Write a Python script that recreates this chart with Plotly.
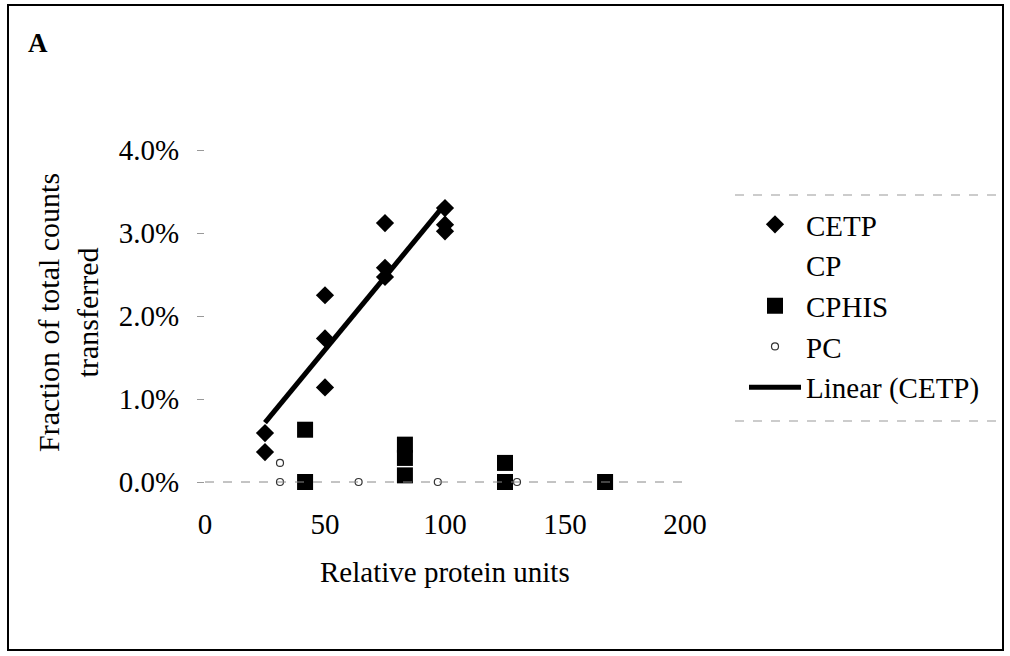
import numpy as np
import plotly.graph_objects as go

# CETP transfer vs relative protein units
cetp_x = [25, 25, 50, 50, 50, 75, 75, 75, 100, 100, 100]
cetp_y = [0.0036, 0.0059, 0.0114, 0.0173, 0.0225, 0.0247, 0.0258, 0.0312, 0.0302, 0.0310, 0.0330]

# CP shows no visible points
cp_x = [None]
cp_y = [None]

cphis_x = [41.7, 41.7, 83.3, 83.3, 83.3, 125, 125, 166.7]
cphis_y = [0.0, 0.0063, 0.0008, 0.0029, 0.0045, 0.0, 0.0023, 0.0]

pc_x = [31.25, 31.25, 64, 97, 130]
pc_y = [0.0, 0.0023, 0.0, 0.0, 0.0]

x_ticks = [0, 50, 100, 150, 200]
y_ticks = [0.0, 0.01, 0.02, 0.03, 0.04]

# plot area in page pixels (body margin removed below)
W, H = 1010, 656
L, R, T, B = 205, 685, 150, 482


def px(x):
    return (x - L) / (R - L)


def py(y):
    return (B - y) / (B - T)


serif = "Liberation Serif, Times New Roman, serif"

fig = go.Figure()

fig.add_trace(go.Scatter(
    x=cetp_x, y=cetp_y, name="CETP", mode="markers",
    marker=dict(symbol="diamond", size=14, color="black"),
    cliponaxis=False
))

fig.add_trace(go.Scatter(
    x=cp_x, y=cp_y, name="CP", mode="markers",
    marker=dict(symbol="square", size=12, color="white", opacity=0)
))

fig.add_trace(go.Scatter(
    x=cphis_x, y=cphis_y, name="CPHIS", mode="markers",
    marker=dict(symbol="square", size=16, color="black"),
    cliponaxis=False
))

fig.add_trace(go.Scatter(
    x=pc_x, y=pc_y, name="PC", mode="markers",
    marker=dict(symbol="circle-open", size=7, color="#333333", line=dict(width=1.2)),
    cliponaxis=False
))

# Linear trendline for CETP
slope, intercept = np.polyfit(cetp_x, cetp_y, 1)
fit_x = np.array([min(cetp_x), max(cetp_x)])
fig.add_trace(go.Scatter(
    x=fit_x, y=slope * fit_x + intercept, name="Linear (CETP)", mode="lines",
    line=dict(color="black", width=5)
))

fig.update_layout(
    width=W, height=H,
    margin=dict(l=L, r=W - R, t=T, b=H - B),
    paper_bgcolor="white", plot_bgcolor="white",
    font=dict(family=serif, size=29, color="black"),
    showlegend=True,
    legend=dict(
        x=px(744), y=py(199), xanchor="left", yanchor="top",
        font=dict(family=serif, size=29),
        bgcolor="rgba(0,0,0,0)", borderwidth=0,
        itemwidth=52
    ),
)

fig.update_xaxes(
    range=[0, 200], tickvals=x_ticks, ticks="", showline=False,
    showgrid=False, zeroline=False, ticklabelstandoff=22,
    tickfont=dict(family=serif, size=29)
)
fig.update_yaxes(
    range=[0, 0.04], tickvals=y_ticks, tickformat=".1%", ticks="outside",
    ticklen=7, tickcolor="#999999", showline=False, showgrid=False,
    zeroline=False, ticklabelstandoff=12,
    tickfont=dict(family=serif, size=29)
)

# Axis titles
fig.add_annotation(
    x=px(445), y=py(572), xref="paper", yref="paper", showarrow=False,
    xanchor="center", yanchor="middle",
    text="Relative protein units", font=dict(family=serif, size=29)
)
fig.add_annotation(
    x=px(68), y=py(313), xref="paper", yref="paper", showarrow=False,
    xanchor="center", yanchor="middle",
    text="Fraction of total counts<br>transferred", textangle=-90,
    font=dict(family=serif, size=30)
)

# Panel label
fig.add_annotation(
    x=px(26), y=py(43), xref="paper", yref="paper", showarrow=False,
    xanchor="left", yanchor="middle", text="<b>A</b>",
    font=dict(family=serif, size=27)
)

# x axis line (dashed, faint) and outer frame
fig.add_shape(type="line", xref="paper", yref="paper",
              x0=0, x1=px(690), y0=0, y1=0,
              line=dict(color="#888888", width=1, dash="dash"))
fig.add_shape(type="rect", xref="paper", yref="paper",
              x0=px(8), x1=px(1003), y0=py(5), y1=py(650),
              line=dict(color="black", width=2))

# Legend box top and bottom edges
for yy in [195, 421]:
    fig.add_shape(type="line", xref="paper", yref="paper",
                  x0=px(735), x1=px(1003), y0=py(yy), y1=py(yy),
                  line=dict(color="#999999", width=1, dash="dash"))

fig.write_html("out.html", config={"displayModeBar": False},
               post_script="document.body.style.margin = '0';")
